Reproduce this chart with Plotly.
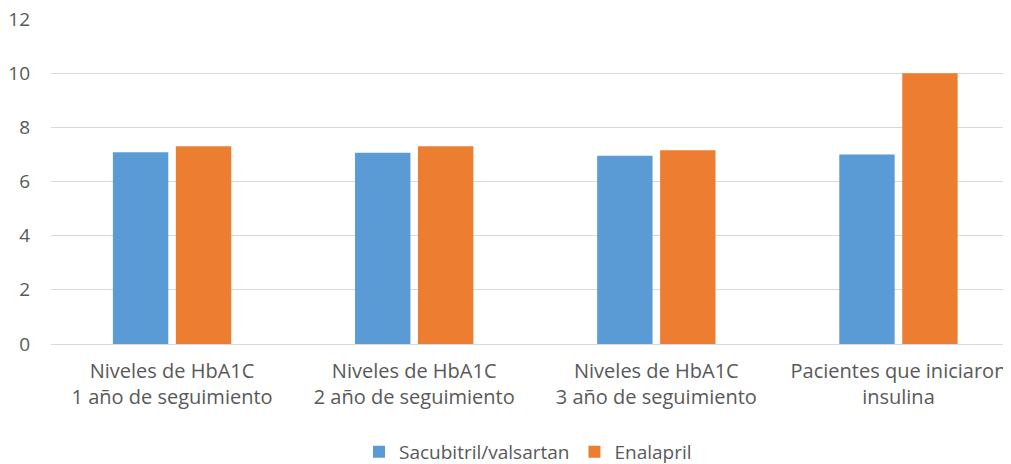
import plotly.graph_objects as go

categories = [
    "Niveles de HbA1C<br>1 año de seguimiento",
    "Niveles de HbA1C<br>2 año de seguimiento",
    "Niveles de HbA1C<br>3 año de seguimiento",
    "Pacientes que iniciaron<br>insulina",
]
sacubitril = [7.08, 7.06, 6.95, 7.0]
enalapril = [7.3, 7.3, 7.15, 10.0]
y_ticks = [0, 2, 4, 6, 8, 10, 12]

FONT = "Open Sans, DejaVu Sans, sans-serif"
GRAY = "#595959"

fig = go.Figure()
fig.add_trace(go.Bar(name="Sacubitril/valsartan", x=categories, y=sacubitril,
                     marker=dict(color="#5b9bd5", line=dict(width=0))))
fig.add_trace(go.Bar(name="Enalapril", x=categories, y=enalapril,
                     marker=dict(color="#ed7d31", line=dict(width=0))))

fig.update_layout(
    width=1011, height=500,
    margin=dict(l=43, r=14, t=11, b=164),
    plot_bgcolor="white", paper_bgcolor="white",
    barmode="group", bargap=0.48, bargroupgap=0.12,
    font=dict(family=FONT, color=GRAY, size=19),
    showlegend=True,
    legend=dict(orientation="h", x=0.5, xanchor="center", y=-0.332, yanchor="middle",
                font=dict(size=19, color=GRAY), itemwidth=30, traceorder="normal"),
    xaxis=dict(showgrid=False, showline=False, ticks="", automargin=False,
               range=[-0.5, 3.44], ticklabeloverflow="allow",
               ticklabelstandoff=13, tickfont=dict(size=20, color=GRAY)),
    yaxis=dict(range=[0, 12], tickvals=y_ticks, showgrid=True, gridcolor="#d9d9d9", gridwidth=1,
               zeroline=True, zerolinecolor="#d9d9d9", zerolinewidth=1, showline=False,
               automargin=False, ticks="", ticklabelstandoff=20, ticklabeloverflow="allow",
               tickfont=dict(size=19, color=GRAY)),
)

fig.write_html("out.html")
